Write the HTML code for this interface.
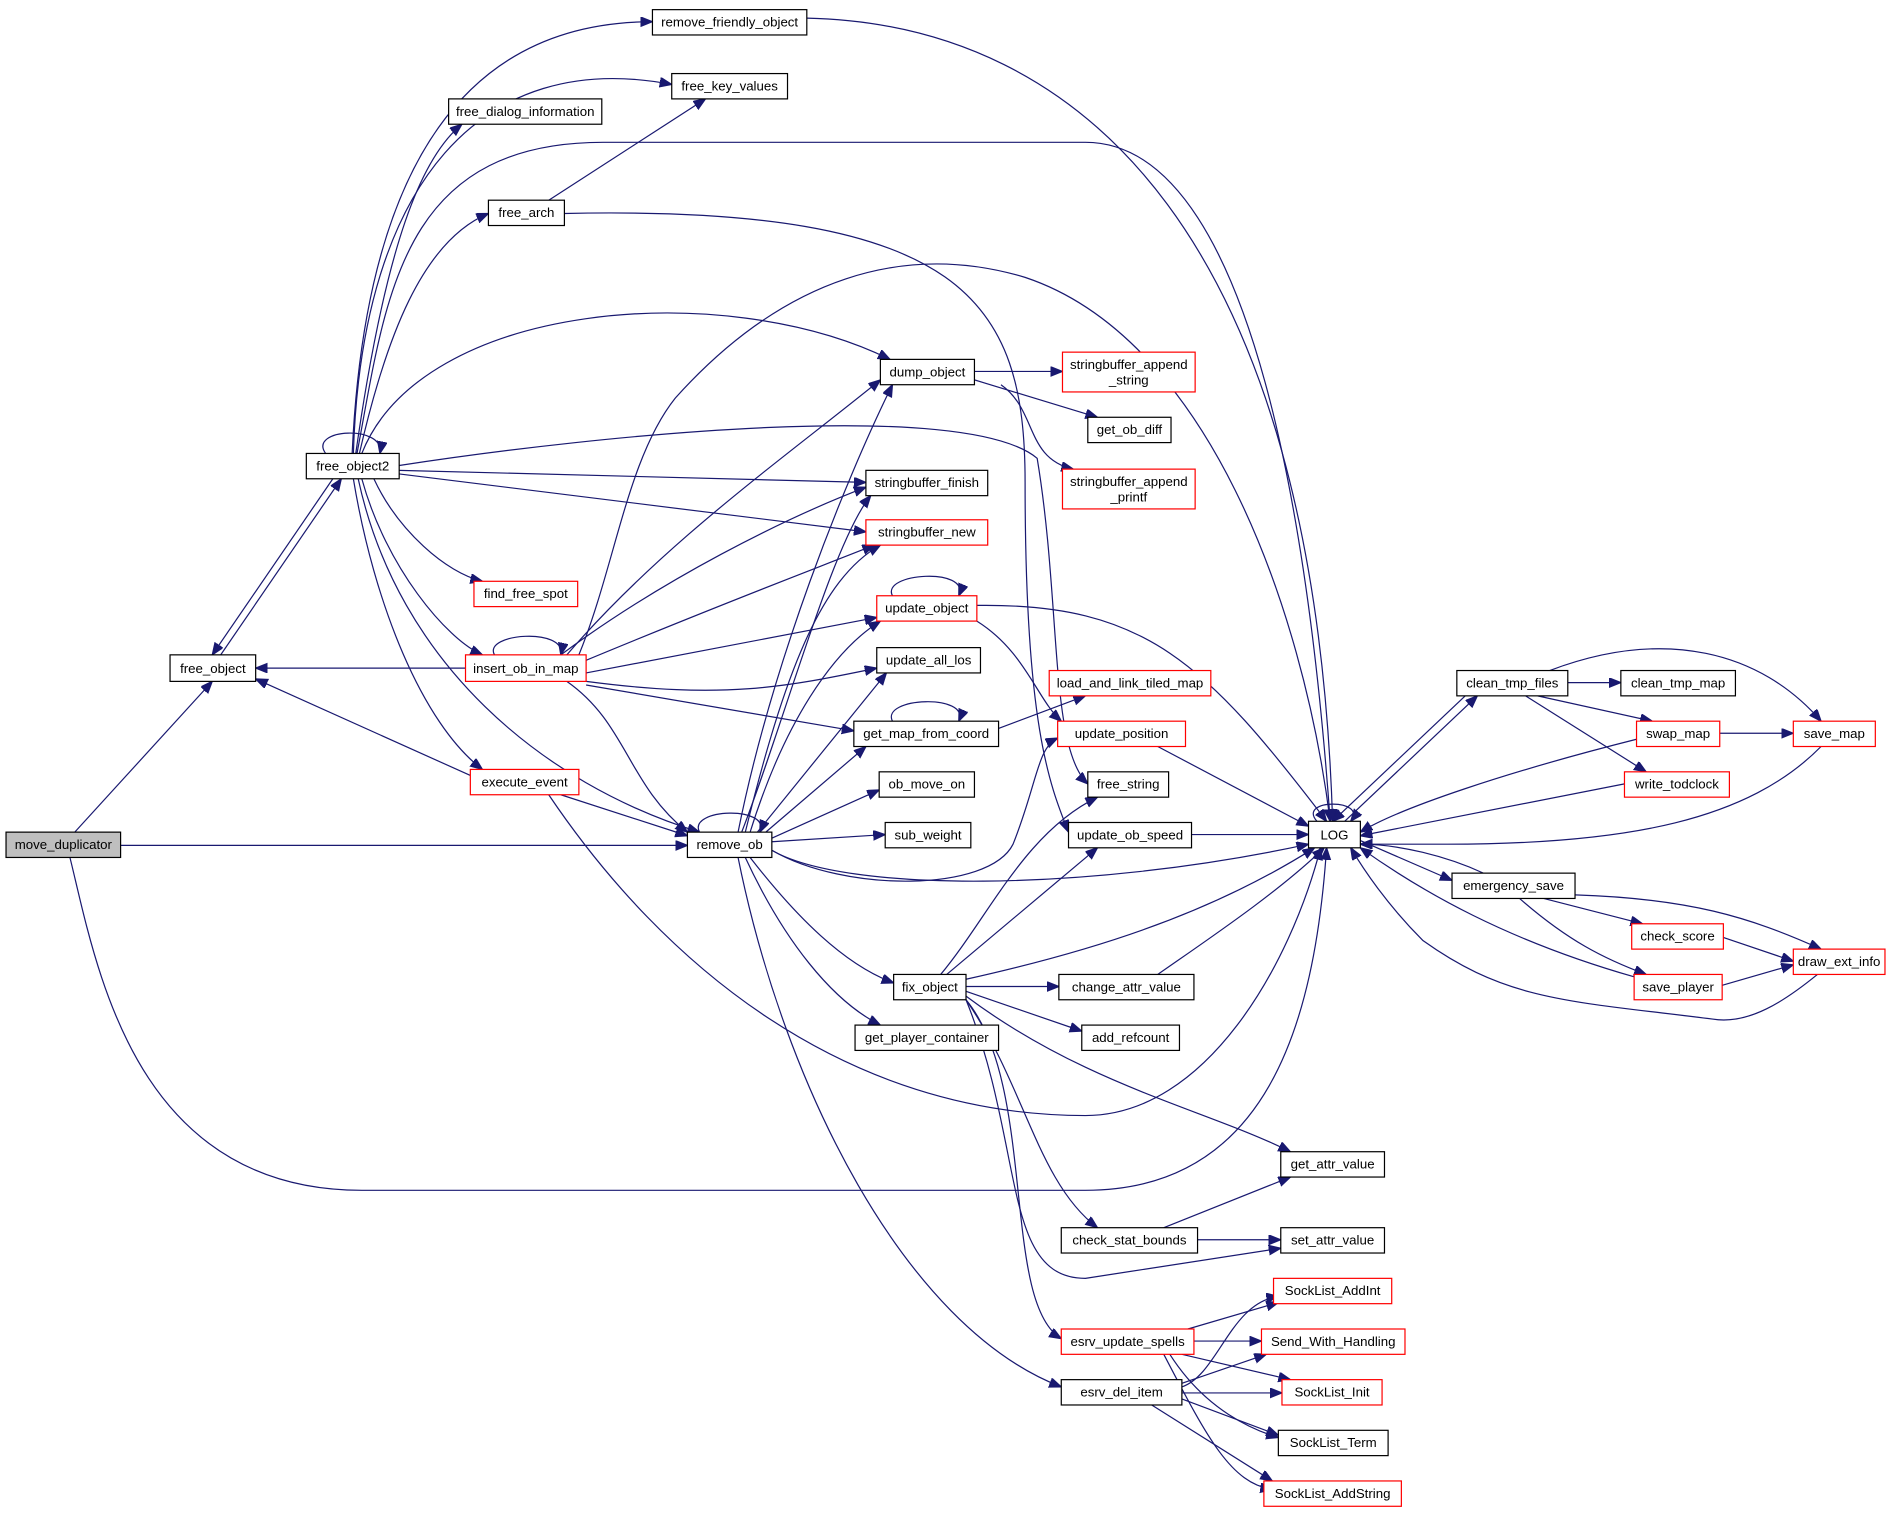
<!DOCTYPE html>
<html><head><meta charset="utf-8"><style>
html,body{margin:0;padding:0;background:#fff;}
svg{display:block;}
text{font-family:"Liberation Sans",sans-serif;font-size:11px;text-anchor:middle;fill:#000;}
.e{fill:none;stroke:#191970;stroke-width:1;marker-end:url(#a);}
.n{fill:#fff;stroke:#000;stroke-width:1;}
.r{fill:#fff;stroke:#ff0000;stroke-width:1;}
</style></head><body>
<svg width="1891" height="1514" viewBox="0 0 1568 1255.4" preserveAspectRatio="none" xmlns="http://www.w3.org/2000/svg">
<defs><marker id="a" markerUnits="userSpaceOnUse" markerWidth="11" markerHeight="9" refX="10" refY="4" orient="auto"><path d="M0,0 L10,4 L0,8 z" fill="#191970" stroke="#191970"/></marker></defs>
<g>
<path class="e" d="M62,690 L176,565"/>
<path class="e" d="M100,701 L570,701"/>
<path class="e" d="M58,711 C80,800 110,987 300,987 L900,987 C1050,987 1090,850 1100,703"/>
<path class="e" d="M183,543 L283,397"/>
<path class="e" d="M276,397 L176,543"/>
<path class="e" d="M270,376 C255,355 320,352 315,376"/>
<path class="e" d="M292,376 C300,200 350,18 541,18"/>
<path class="e" d="M293,376 C300,150 400,40 557,70"/>
<path class="e" d="M295,376 C320,200 350,130 383,103"/>
<path class="e" d="M296,376 C320,250 330,118 500,118 L900,118 C1050,118 1090,500 1103,681"/>
<path class="e" d="M298,376 C320,280 350,200 405,177"/>
<path class="e" d="M300,376 C350,250 600,230 738,298"/>
<path class="e" d="M331,386 C500,360 800,330 860,380 C880,500 870,620 902,650"/>
<path class="e" d="M331,390 L718,400"/>
<path class="e" d="M331,393 L718,441"/>
<path class="e" d="M310,397 C330,440 370,475 400,482"/>
<path class="e" d="M300,397 C320,470 370,530 400,543"/>
<path class="e" d="M297,397 C330,550 450,650 580,690"/>
<path class="e" d="M293,397 C310,500 350,600 400,638"/>
<path class="e" d="M455,166 L585,82"/>
<path class="e" d="M468,177 C800,170 850,250 850,400 C850,600 870,650 886,690"/>
<path class="e" d="M410,543 C400,525 470,520 465,543"/>
<path class="e" d="M386,554 L212,554"/>
<path class="e" d="M470,543 C550,450 650,380 730,315"/>
<path class="e" d="M480,543 C510,470 520,380 560,330 C650,230 750,200 850,230 C1000,280 1080,500 1103,681"/>
<path class="e" d="M465,543 C550,480 650,430 718,404"/>
<path class="e" d="M480,550 C600,500 680,470 725,452"/>
<path class="e" d="M486,558 L727,512"/>
<path class="e" d="M486,565 C600,580 650,570 727,554"/>
<path class="e" d="M486,568 L708,606"/>
<path class="e" d="M470,565 C520,600 520,650 570,690"/>
<path class="e" d="M390,643 L212,563"/>
<path class="e" d="M465,659 L570,693"/>
<path class="e" d="M455,659 C550,800 700,925 900,925 C1000,925 1070,800 1095,703"/>
<path class="e" d="M580,690 C570,670 640,668 630,690"/>
<path class="e" d="M612,690 C640,550 700,400 740,319"/>
<path class="e" d="M615,690 C650,600 690,450 722,411"/>
<path class="e" d="M618,690 C650,560 680,480 730,452"/>
<path class="e" d="M622,690 C650,600 690,540 730,515"/>
<path class="e" d="M628,690 L735,558"/>
<path class="e" d="M635,690 L718,619"/>
<path class="e" d="M640,695 L729,655"/>
<path class="e" d="M640,698 L734,692"/>
<path class="e" d="M640,705 C700,740 820,740 840,700 C860,650 860,620 877,612"/>
<path class="e" d="M640,705 C700,740 900,740 1085,700"/>
<path class="e" d="M622,711 C660,760 700,800 741,815"/>
<path class="e" d="M618,711 C650,780 690,830 730,850"/>
<path class="e" d="M612,711 C650,900 750,1100 880,1150"/>
<path class="e" d="M808,308 L881,308"/>
<path class="e" d="M808,315 L910,346"/>
<path class="e" d="M830,319 C860,340 850,380 890,389"/>
<path class="e" d="M740,494 C730,475 805,470 795,494"/>
<path class="e" d="M810,515 C850,540 860,580 880,598"/>
<path class="e" d="M810,502 C950,500 1000,550 1100,681"/>
<path class="e" d="M740,598 C730,578 805,575 795,598"/>
<path class="e" d="M828,604 L900,577"/>
<path class="e" d="M960,619 L1085,685"/>
<path class="e" d="M988,692 L1085,692"/>
<path class="e" d="M780,808 C820,760 850,690 910,661"/>
<path class="e" d="M785,808 L910,703"/>
<path class="e" d="M801,812 C900,790 1000,760 1090,703"/>
<path class="e" d="M801,818 L878,818"/>
<path class="e" d="M801,822 L897,855"/>
<path class="e" d="M801,826 C900,900 1000,920 1070,955"/>
<path class="e" d="M801,829 C850,900 860,980 910,1018"/>
<path class="e" d="M801,829 C850,950 830,1060 900,1060 L1062,1035"/>
<path class="e" d="M801,829 C860,900 830,1080 880,1110"/>
<path class="e" d="M960,808 C1000,780 1060,740 1098,703"/>
<path class="e" d="M965,1018 L1070,976"/>
<path class="e" d="M993,1028 L1062,1028"/>
<path class="e" d="M985,1102 L1060,1080"/>
<path class="e" d="M990,1112 L1046,1112"/>
<path class="e" d="M980,1123 L1070,1144"/>
<path class="e" d="M970,1123 C1000,1170 1040,1186 1060,1192"/>
<path class="e" d="M965,1123 C1000,1190 1020,1230 1055,1235"/>
<path class="e" d="M980,1150 C1010,1140 1020,1080 1060,1075"/>
<path class="e" d="M980,1147 L1050,1123"/>
<path class="e" d="M980,1155 L1063,1155"/>
<path class="e" d="M980,1160 L1060,1190"/>
<path class="e" d="M955,1165 L1055,1228"/>
<path class="e" d="M669,15 C900,20 1090,200 1105,681"/>
<path class="e" d="M1092,681 C1075,662 1135,662 1120,681"/>
<path class="e" d="M1115,681 L1225,577"/>
<path class="e" d="M1215,577 L1105,681"/>
<path class="e" d="M1128,697 L1204,730"/>
<path class="e" d="M1230,724 C1200,710 1160,700 1128,700"/>
<path class="e" d="M1300,566 L1344,566"/>
<path class="e" d="M1275,577 L1370,598"/>
<path class="e" d="M1265,577 L1365,640"/>
<path class="e" d="M1285,556 C1380,520 1460,540 1510,598"/>
<path class="e" d="M1426,608 L1487,608"/>
<path class="e" d="M1357,613 C1250,640 1160,670 1128,690"/>
<path class="e" d="M1347,650 L1128,693"/>
<path class="e" d="M1510,619 C1450,680 1350,700 1200,700 L1128,700"/>
<path class="e" d="M1280,745 L1362,766"/>
<path class="e" d="M1260,745 C1300,780 1330,795 1365,808"/>
<path class="e" d="M1306,742 C1400,745 1450,760 1510,787"/>
<path class="e" d="M1428,777 L1487,797"/>
<path class="e" d="M1428,817 L1487,800"/>
<path class="e" d="M1355,810 C1250,780 1180,740 1128,703"/>
<path class="e" d="M1507,808 C1480,830 1450,850 1420,845 C1300,830 1250,830 1180,780 C1150,750 1130,720 1120,703"/>
</g>
<g>
<rect x="5" y="690" width="95" height="21" fill="#bfbfbf" stroke="#000"/><text x="52.5" y="704">move_duplicator</text>
<rect class="n" x="141" y="543" width="71" height="22"/><text x="176.5" y="558">free_object</text>
<rect class="n" x="254" y="376" width="77" height="21"/><text x="292.5" y="390">free_object2</text>
<rect class="n" x="541" y="8" width="128" height="21"/><text x="605" y="22">remove_friendly_object</text>
<rect class="n" x="557" y="61" width="96" height="21"/><text x="605" y="75">free_key_values</text>
<rect class="n" x="372" y="82" width="127" height="21"/><text x="435.5" y="96">free_dialog_information</text>
<rect class="n" x="405" y="166" width="63" height="21"/><text x="436.5" y="180">free_arch</text>
<rect class="n" x="730" y="298" width="78" height="21"/><text x="769" y="312">dump_object</text>
<rect class="r" x="881" y="292" width="110" height="33"/><text x="936" y="306">stringbuffer_append</text><text x="936" y="319">_string</text>
<rect class="n" x="902" y="346" width="69" height="21"/><text x="936.5" y="360">get_ob_diff</text>
<rect class="r" x="881" y="389" width="110" height="33"/><text x="936" y="403">stringbuffer_append</text><text x="936" y="416">_printf</text>
<rect class="n" x="718" y="390" width="101" height="21"/><text x="768.5" y="404">stringbuffer_finish</text>
<rect class="r" x="718" y="431" width="101" height="21"/><text x="768.5" y="445">stringbuffer_new</text>
<rect class="r" x="393" y="482" width="86" height="21"/><text x="436" y="496">find_free_spot</text>
<rect class="r" x="727" y="494" width="83" height="21"/><text x="768.5" y="508">update_object</text>
<rect class="r" x="386" y="543" width="100" height="22"/><text x="436" y="558">insert_ob_in_map</text>
<rect class="n" x="727" y="537" width="86" height="21"/><text x="770" y="551">update_all_los</text>
<rect class="r" x="870" y="556" width="134" height="21"/><text x="937" y="570">load_and_link_tiled_map</text>
<rect class="n" x="708" y="598" width="120" height="21"/><text x="768" y="612">get_map_from_coord</text>
<rect class="r" x="877" y="598" width="106" height="21"/><text x="930" y="612">update_position</text>
<rect class="r" x="390" y="638" width="90" height="21"/><text x="435" y="652">execute_event</text>
<rect class="n" x="902" y="640" width="67" height="21"/><text x="935.5" y="654">free_string</text>
<rect class="n" x="729" y="640" width="79" height="21"/><text x="768.5" y="654">ob_move_on</text>
<rect class="n" x="570" y="690" width="70" height="21"/><text x="605" y="704">remove_ob</text>
<rect class="n" x="734" y="682" width="71" height="21"/><text x="769.5" y="696">sub_weight</text>
<rect class="n" x="886" y="682" width="102" height="21"/><text x="937" y="696">update_ob_speed</text>
<rect class="n" x="1085" y="681" width="43" height="22"/><text x="1106.5" y="696">LOG</text>
<rect class="n" x="741" y="808" width="60" height="21"/><text x="771" y="822">fix_object</text>
<rect class="n" x="878" y="808" width="112" height="21"/><text x="934" y="822">change_attr_value</text>
<rect class="n" x="897" y="850" width="81" height="21"/><text x="937.5" y="864">add_refcount</text>
<rect class="n" x="709" y="850" width="119" height="21"/><text x="768.5" y="864">get_player_container</text>
<rect class="n" x="1062" y="955" width="86" height="21"/><text x="1105" y="969">get_attr_value</text>
<rect class="n" x="880" y="1018" width="113" height="21"/><text x="936.5" y="1032">check_stat_bounds</text>
<rect class="n" x="1062" y="1018" width="86" height="21"/><text x="1105" y="1032">set_attr_value</text>
<rect class="r" x="1056" y="1060" width="98" height="21"/><text x="1105" y="1074">SockList_AddInt</text>
<rect class="r" x="880" y="1102" width="110" height="21"/><text x="935" y="1116">esrv_update_spells</text>
<rect class="r" x="1046" y="1102" width="119" height="21"/><text x="1105.5" y="1116">Send_With_Handling</text>
<rect class="n" x="880" y="1144" width="100" height="21"/><text x="930" y="1158">esrv_del_item</text>
<rect class="r" x="1063" y="1144" width="83" height="21"/><text x="1104.5" y="1158">SockList_Init</text>
<rect class="n" x="1060" y="1186" width="91" height="21"/><text x="1105.5" y="1200">SockList_Term</text>
<rect class="r" x="1048" y="1228" width="114" height="21"/><text x="1105" y="1242">SockList_AddString</text>
<rect class="n" x="1208" y="556" width="92" height="21"/><text x="1254" y="570">clean_tmp_files</text>
<rect class="n" x="1344" y="556" width="95" height="21"/><text x="1391.5" y="570">clean_tmp_map</text>
<rect class="r" x="1357" y="598" width="69" height="21"/><text x="1391.5" y="612">swap_map</text>
<rect class="r" x="1487" y="598" width="68" height="21"/><text x="1521" y="612">save_map</text>
<rect class="r" x="1347" y="640" width="87" height="21"/><text x="1390.5" y="654">write_todclock</text>
<rect class="n" x="1204" y="724" width="102" height="21"/><text x="1255" y="738">emergency_save</text>
<rect class="r" x="1353" y="766" width="76" height="21"/><text x="1391" y="780">check_score</text>
<rect class="r" x="1355" y="808" width="73" height="21"/><text x="1391.5" y="822">save_player</text>
<rect class="r" x="1487" y="787" width="76" height="21"/><text x="1525" y="801">draw_ext_info</text>
</g>
</svg>
</body></html>
